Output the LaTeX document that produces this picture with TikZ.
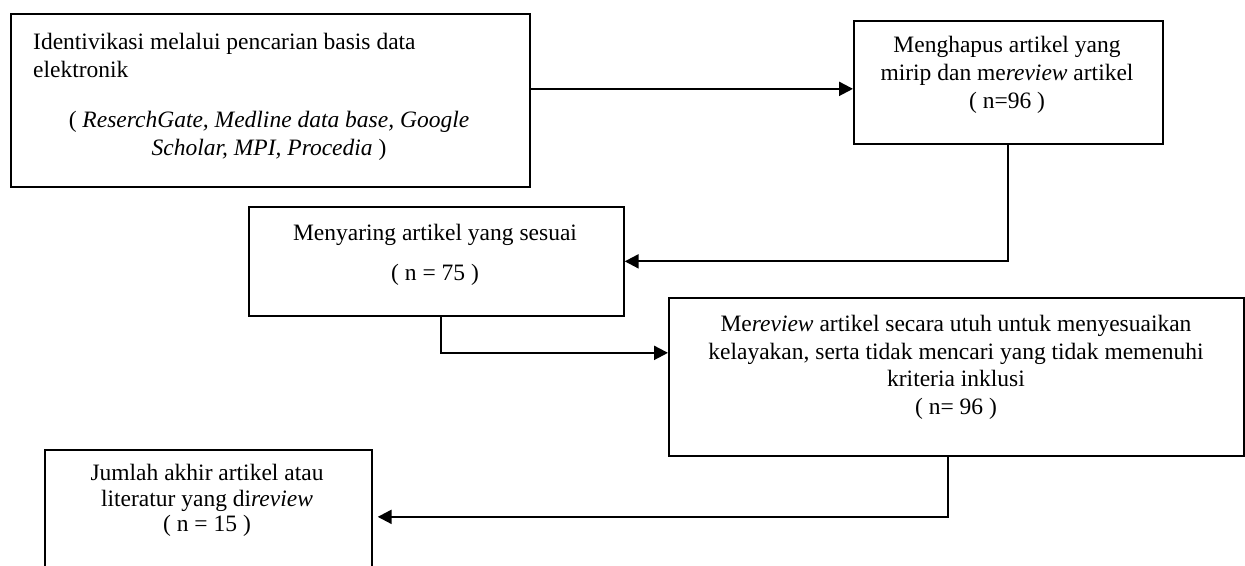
\documentclass[tikz,border=0pt]{standalone}
\usepackage{fontspec}
\setmainfont{Liberation Serif}
\usetikzlibrary{arrows.meta}
\begin{document}
\begin{tikzpicture}[x=1pt,y=-1pt,
  box/.style={draw=black, line width=1.7pt, anchor=north west, inner sep=0pt},
  txt/.style={anchor=base, inner sep=0pt, font=\fontsize{23.5}{27.5}\selectfont},
  conn/.style={line width=2.2pt, -{Triangle[length=14pt,width=14pt]}}]
\useasboundingbox (0,0) rectangle (1245,565);
\clip (0,0) rectangle (1245,565);
% boxes
\node[box, minimum width=519pt, minimum height=173pt] (A) at (10,13) {};
\node[box, minimum width=309pt, minimum height=123pt] (B) at (853,20) {};
\node[box, minimum width=375pt, minimum height=109pt] (C) at (248,206) {};
\node[box, minimum width=575pt, minimum height=158pt] (D) at (668,297) {};
\node[box, minimum width=327pt, minimum height=140pt] (E) at (44,449) {};
% texts
\node[txt, anchor=base west] (a1) at (33,49) {Identivikasi melalui pencarian basis data};
\node[txt, anchor=base west] (a2) at (33,77) {elektronik};
\node[txt] (a3) at (269,127) {( \textit{ReserchGate, Medline data base, Google}};
\node[txt] (a4) at (269,155) {\textit{Scholar, MPI, Procedia} )};
\node[txt] (b1) at (1007,52) {Menghapus artikel yang};
\node[txt] (b2) at (1007,80) {mirip dan me\textit{review} artikel};
\node[txt] (b3) at (1007,108) {( n=96 )};
\node[txt] (c1) at (435,240) {Menyaring artikel yang sesuai};
\node[txt] (c2) at (435,280) {( n = 75 )};
\node[txt] (d1) at (956,331) {Me\textit{review} artikel secara utuh untuk menyesuaikan};
\node[txt] (d2) at (956,359) {kelayakan, serta tidak mencari yang tidak memenuhi};
\node[txt] (d3) at (956,386) {kriteria inklusi};
\node[txt] (d4) at (956,414) {( n= 96 )};
\node[txt] (e1) at (207,480) {Jumlah akhir artikel atau};
\node[txt] (e2) at (207,506) {literatur yang di\textit{review}};
\node[txt] (e3) at (207,531) {( n = 15 )};
% connectors
\draw[conn] ([yshift=11.5pt]A.east) -- ([yshift=11.5pt]A.east -| B.west);
\draw[conn] (B.south) |- (C.east);
\draw[conn] ([xshift=5pt]C.south) |- ([yshift=24pt]D.west);
\draw[conn] ([xshift=-8pt]D.south) |- ([xshift=5pt,yshift=3pt]E.east);
\end{tikzpicture}
\end{document}
